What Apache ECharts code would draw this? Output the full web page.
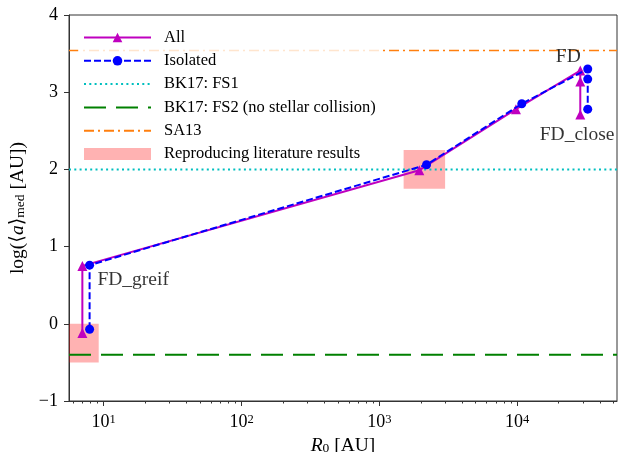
<!DOCTYPE html>
<html>
<head>
<meta charset="utf-8">
<script src="https://cdn.jsdelivr.net/npm/echarts@6/dist/echarts.min.js"></script>
<style>
html, body { margin: 0; padding: 0; background: #fff; }
#chart { width: 618px; height: 452px; }
</style>
</head>
<body>
<div id="chart"></div>
<script>
// values (R0 in AU, log<a>_med in AU)
var allR = [7.0, 7.0, 1950, 9800, 28700, 28700, 28700];
var allLogA = [-0.12, 0.75, 1.99, 2.78, 3.28, 3.14, 2.71];
var isoR = [7.9, 7.9, 2200, 10800, 32500, 32500, 32500];
var isoLogA = [-0.07, 0.76, 2.06, 2.85, 3.30, 3.17, 2.78];

// reference levels
var fs1Level = 2.0;
var fs2Level = -0.4;
var sa13Level = 3.54;

// literature boxes: x range, y range
var boxR = [[5.6, 9.2], [1500, 3000]];
var boxLogA = [[-0.5, 0], [1.75, 2.25]];

// annotations
var noteNames = ['FD_greif', 'FD', 'FD_close'];
var noteR = [9.0, 23500, 27200];
var noteLogA = [0.57, 3.46, 2.45];
var noteAlign = ['left', 'center', 'center'];

// axes
var xMin = 5.6, xMax = 53000;
var xMajor = [10, 100, 1000, 10000];
var xMinor = [6, 7, 8, 9];
[10, 100, 1000, 10000].forEach(function (d) {
    for (var k = 2; k <= 9; k++) {
        if (k * d < xMax) xMinor.push(k * d);
    }
});

var font = '"Liberation Serif", "DejaVu Serif", serif';
var ink = '#333';

function zip(xs, ys) {
    return xs.map(function (x, i) { return [x, ys[i]]; });
}
function level(y) {
    return [[xMin, y], [xMax, y]];
}

var hideDot = { opacity: 0 };

var myChart = echarts.init(document.getElementById('chart'));
myChart.setOption({
    animation: false,
    textStyle: { fontFamily: font },
    grid: {
        left: 69, right: 1, top: 15, bottom: 51,
        outerBoundsMode: 'none', containLabel: false,
        show: true, borderColor: ink, borderWidth: 1
    },
    legend: {
        orient: 'vertical',
        left: 78, top: 24,
        padding: 5,
        itemWidth: 67, itemHeight: 12, itemGap: 6.3,
        backgroundColor: 'rgba(255,255,255,0.8)',
        textStyle: { fontFamily: font, fontSize: 16.5, color: '#000', padding: [0, 0, 0, 8] },
        data: [
            'All', 'Isolated',
            { name: 'BK17: FS1', itemStyle: hideDot },
            { name: 'BK17: FS2 (no stellar collision)', itemStyle: hideDot },
            { name: 'SA13', itemStyle: hideDot },
            { name: 'Reproducing literature results', icon: 'rect' }
        ]
    },
    xAxis: [{
        type: 'log', min: xMin, max: xMax,
        name: '{i|R}{sub|0} [AU]',
        nameLocation: 'middle', nameGap: 28,
        nameTextStyle: {
            fontFamily: font, fontSize: 19.5, color: '#000',
            rich: {
                i: { fontFamily: font, fontSize: 19.5, fontStyle: 'italic', color: '#000' },
                sub: { fontFamily: font, fontSize: 13.5, verticalAlign: 'bottom', color: '#000' }
            }
        },
        axisLine: { show: true, onZero: false, lineStyle: { color: ink, width: 1 } },
        axisTick: { show: true, length: 5, inside: false, customValues: xMajor, lineStyle: { color: ink } },
        axisLabel: {
            customValues: xMajor,
            fontFamily: font, fontSize: 18, color: '#000', margin: 12,
            formatter: function (v) {
                return '10{sup|' + Math.round(Math.log10(v)) + '}';
            },
            rich: {
                sup: { fontFamily: font, fontSize: 12.5, verticalAlign: 'top', color: '#000' }
            }
        },
        splitLine: { show: false }
    }, {
        type: 'log', min: xMin, max: xMax, position: 'bottom',
        axisLine: { show: false, onZero: false },
        axisTick: { show: true, length: 2.5, customValues: xMinor, lineStyle: { color: ink } },
        axisLabel: { show: false },
        splitLine: { show: false }
    }],
    yAxis: {
        type: 'value', min: -1, max: 4, interval: 1,
        name: 'log(\u27e8{i|a}\u27e9{sub|med} [AU])',
        nameLocation: 'middle', nameGap: 40, nameRotate: 90,
        nameTextStyle: {
            fontFamily: font, fontSize: 19.5, color: '#000',
            rich: {
                i: { fontFamily: font, fontSize: 19.5, fontStyle: 'italic', color: '#000' },
                sub: { fontFamily: font, fontSize: 13.5, verticalAlign: 'bottom', color: '#000' }
            }
        },
        axisLine: { show: true, lineStyle: { color: ink, width: 1 } },
        axisTick: { show: true, length: 5, lineStyle: { color: ink } },
        axisLabel: {
            fontFamily: font, fontSize: 18, color: '#000', margin: 11,
            formatter: function (v) { return v < 0 ? '\u2212' + (-v) : String(v); }
        },
        splitLine: { show: false }
    },
    series: [
        {
            name: 'Reproducing literature results',
            type: 'custom',
            z: 1,
            itemStyle: { color: 'rgba(255,0,0,0.3)' },
            encode: { x: [0, 1], y: [2, 3] },
            data: boxR.map(function (r, i) { return [r[0], r[1], boxLogA[i][0], boxLogA[i][1]]; }),
            renderItem: function (params, api) {
                var p0 = api.coord([api.value(0), api.value(3)]);
                var p1 = api.coord([api.value(1), api.value(2)]);
                return {
                    type: 'rect',
                    shape: { x: p0[0], y: p0[1], width: p1[0] - p0[0], height: p1[1] - p0[1] },
                    style: { fill: 'rgba(255,0,0,0.3)' }
                };
            }
        },
        {
            name: 'BK17: FS1', type: 'line', symbol: 'none', z: 2,
            data: level(fs1Level),
            lineStyle: { color: '#00bfbf', width: 2, type: [2, 3.3] },
            itemStyle: { color: '#00bfbf' }
        },
        {
            name: 'BK17: FS2 (no stellar collision)', type: 'line', symbol: 'none', z: 2,
            data: level(fs2Level),
            lineStyle: { color: '#008000', width: 2, type: [22, 10] },
            itemStyle: { color: '#008000' }
        },
        {
            name: 'SA13', type: 'line', symbol: 'none', z: 2,
            data: level(sa13Level),
            lineStyle: { color: '#ff7f0e', width: 1.5, type: [10, 4, 2, 4] },
            itemStyle: { color: '#ff7f0e' }
        },
        {
            name: 'All', type: 'line', z: 3,
            symbol: 'triangle', symbolSize: 10,
            data: zip(allR, allLogA),
            lineStyle: { color: '#bf00bf', width: 2 },
            itemStyle: { color: '#bf00bf' }
        },
        {
            name: 'Isolated', type: 'line', z: 4,
            symbol: 'circle', symbolSize: 9,
            data: zip(isoR, isoLogA),
            lineStyle: { color: '#0000ff', width: 2, type: [7, 3] },
            itemStyle: { color: '#0000ff' }
        },
        {
            name: 'notes', type: 'scatter', symbolSize: 0, silent: true, z: 5,
            data: noteNames.map(function (n, i) {
                return {
                    name: n, value: [noteR[i], noteLogA[i]],
                    label: { align: noteAlign[i] }
                };
            }),
            label: {
                show: true, position: 'inside', formatter: '{b}',
                fontFamily: font, fontSize: 19.5, color: '#000', verticalAlign: 'middle'
            }
        }
    ]
});
</script>
</body>
</html>
